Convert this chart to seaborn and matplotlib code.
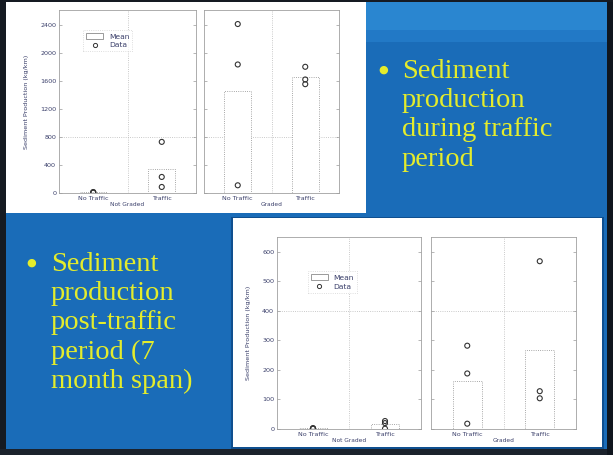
import numpy as np
import pandas as pd
import matplotlib.pyplot as plt
import seaborn as sns
from matplotlib.patches import Patch, Rectangle
from matplotlib.lines import Line2D

#==============================================================================
# Data
#==============================================================================
treatments = ["No Traffic", "Traffic"]
groups = ["Not Graded", "Graded"]

# during traffic period (kg/km), three segments per cell
traffic_ng_nt = [4, 9, 14]
traffic_ng_t = [729, 229, 86]
traffic_g_nt = [2410, 1833, 110]
traffic_g_t = [1800, 1619, 1552]

# post-traffic period, 7 month span (kg/km)
post_ng_nt = [1, 2, 3]
post_ng_t = [27, 20, 1]
post_g_nt = [282, 188, 18]
post_g_t = [568, 128, 104]

top_ticks = [0, 400, 800, 1200, 1600, 2000, 2400]
bottom_ticks = [0, 100, 200, 300, 400, 500, 600]

bullet_top = "Sediment\nproduction\nduring traffic\nperiod"
bullet_bottom = "Sediment\nproduction\npost-traffic\nperiod (7\nmonth span)"

BLUE = '#1a6cb8'
YELLOW = '#e4ec2c'
INK = '#3a3f6a'
GRID = '#b8b8b8'


def long_table(ng_nt, ng_t, g_nt, g_t):
    rows = []
    for grp, cells in zip(groups, [(ng_nt, ng_t), (g_nt, g_t)]):
        for trt, vals in zip(treatments, cells):
            for v in vals:
                rows.append({'group': grp, 'treatment': trt, 'value': v})
    return pd.DataFrame(rows)


df_top = long_table(traffic_ng_nt, traffic_ng_t, traffic_g_nt, traffic_g_t)
df_bot = long_table(post_ng_nt, post_ng_t, post_g_nt, post_g_t)

#==============================================================================
# Slide background
#==============================================================================
W, H = 613, 455
fig = plt.figure(figsize=(W / 100, H / 100), dpi=100, facecolor=BLUE)


def px_rect(x0, y0, x1, y1):
    # pixel box (from top-left) -> figure fraction [l, b, w, h]
    return [x0 / W, 1 - y1 / H, (x1 - x0) / W, (y1 - y0) / H]


def add_box(x0, y0, x1, y1, color):
    l, b, w, h = px_rect(x0, y0, x1, y1)
    fig.patches.append(Rectangle((l, b), w, h, transform=fig.transFigure,
                                 facecolor=color, edgecolor='none', zorder=-5))


# lighter band across the top right of the slide
add_box(366, 0, 613, 30, '#2a86d0')
add_box(366, 30, 613, 42, '#2279c6')
# chart cards
add_box(6, 0, 366, 213, 'white')
add_box(231, 217, 604, 449, '#0f4f8f')
add_box(233, 218, 602, 447, 'white')
# dark photo edges
add_box(0, 0, 6, 455, '#151a22')
add_box(0, 449, 613, 455, '#1b222c')
add_box(607, 0, 613, 455, '#10161e')
add_box(0, 0, 613, 2, '#151a22')

#==============================================================================
# Charts
#==============================================================================
sns.set_style('white')


def panel(rect, data, group, ymax, ticks, show_labels):
    ax = fig.add_axes(px_rect(*rect))
    ax.set_zorder(5)
    sub = data[data['group'] == group]
    sns.barplot(data=sub, x='treatment', y='value', order=treatments,
                estimator='mean', errorbar=None, width=0.4, color='white',
                edgecolor='#8a8a8a', linewidth=0.6, linestyle=':', ax=ax)
    sns.stripplot(data=sub, x='treatment', y='value', order=treatments,
                  jitter=False, size=3.6, marker='o', color='#333333', ax=ax)
    for c in ax.collections:
        c.set_facecolor('none')
        c.set_edgecolor('#333333')
        c.set_linewidth(0.8)
    ax.set_xlim(-0.5, 1.5)
    ax.set_ylim(0, ymax)
    ax.set_yticks(ticks)
    ax.tick_params(axis='both', direction='in', length=2, width=0.5,
                   labelsize=4.6, labelcolor=INK, colors='#999999', pad=2)
    ax.tick_params(axis='y', right=True, left=True)
    ax.tick_params(axis='x', bottom=False)
    if not show_labels:
        ax.set_yticklabels([])
    for lab in ax.get_xticklabels():
        lab.set_color(INK)
    ax.axvline(0.5, color=GRID, lw=0.6, ls=':', zorder=0)
    ax.axhline(ticks[2] if ymax > 1000 else ticks[4], color=GRID, lw=0.6,
               ls=':', zorder=0)
    for s in ax.spines.values():
        s.set_color('#a0a0a0')
        s.set_linewidth(0.6)
    ax.set_xlabel(group, fontsize=4.2, color=INK, labelpad=1)
    ax.set_ylabel('')
    return ax


def legend(ax, anchor):
    handles = [Patch(facecolor='white', edgecolor='#8a8a8a', linewidth=0.6),
               Line2D([], [], ls='none', marker='o', markersize=3,
                      markerfacecolor='none', markeredgecolor='#333333',
                      markeredgewidth=0.7)]
    leg = ax.legend(handles, ['Mean', 'Data'], loc='upper left',
                    bbox_to_anchor=anchor, fontsize=5.4, frameon=True,
                    fancybox=False, handlelength=2.2, handleheight=0.8,
                    borderpad=0.4, labelspacing=0.3, handletextpad=0.8)
    leg.get_frame().set_edgecolor('#c8c8c8')
    leg.get_frame().set_linestyle(':')
    leg.get_frame().set_linewidth(0.6)
    for t in leg.get_texts():
        t.set_color(INK)


# during traffic period
ax1 = panel((59, 10, 196, 193), df_top, 'Not Graded', 2610, top_ticks, True)
ax2 = panel((204, 10, 339, 193), df_top, 'Graded', 2610, top_ticks, False)
ax1.set_ylabel('Sediment Production (kg/km)', fontsize=4.6, color=INK,
               labelpad=8)
legend(ax1, (0.15, 0.91))

# post-traffic period
ax3 = panel((277, 237, 421, 429), df_bot, 'Not Graded', 650, bottom_ticks, True)
ax4 = panel((431, 237, 576, 429), df_bot, 'Graded', 650, bottom_ticks, False)
ax3.set_ylabel('Sediment Production (kg/km)', fontsize=4.6, color=INK,
               labelpad=8)
legend(ax3, (0.19, 0.84))

#==============================================================================
# Bullets
#==============================================================================
serif = ['Liberation Serif', 'DejaVu Serif']
fig.text(383 / W, 1 - 70 / H, '\u25cf', color=YELLOW, fontsize=8,
         ha='center', va='center')
fig.text(402 / W, 1 - 59 / H, bullet_top, color=YELLOW, fontsize=20.5,
         family=serif, ha='left', va='top', linespacing=1.22)
fig.text(31 / W, 1 - 263 / H, '\u25cf', color=YELLOW, fontsize=8,
         ha='center', va='center')
fig.text(51 / W, 1 - 252 / H, bullet_bottom, color=YELLOW, fontsize=20.5,
         family=serif, ha='left', va='top', linespacing=1.22)

fig.savefig('out.png', dpi=100, facecolor=fig.get_facecolor())
